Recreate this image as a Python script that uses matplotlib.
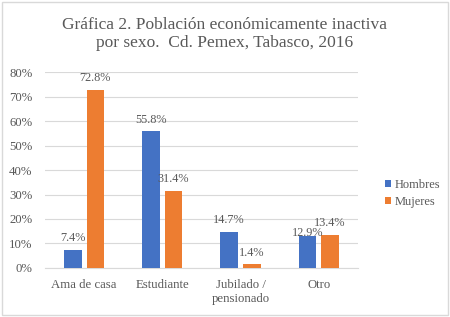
import matplotlib
matplotlib.use("Agg")
from matplotlib import pyplot as plt
from matplotlib.patches import Rectangle
import numpy as np

categorias = ["Ama de casa", "Estudiante", "Jubilado /\npensionado", "Otro"]
hombres = [7.4, 55.8, 14.7, 12.9]
mujeres = [72.8, 31.4, 1.4, 13.4]

plt.rcParams["font.family"] = ["Liberation Serif", "DejaVu Serif"]
gris = "#595959"

fig = plt.figure(figsize=(4.5, 3.17), dpi=100)
ax = fig.add_axes([0.1, 0.155, 0.695, 0.617])

x = np.arange(len(categorias))
w = 0.225
d = w / 2 + 0.032
b1 = ax.bar(x - d, hombres, w, color="#4472C4", label="Hombres", zorder=3)
b2 = ax.bar(x + d, mujeres, w, color="#ED7D31", label="Mujeres", zorder=3)

for k, (bars, vals) in enumerate(((b1, hombres), (b2, mujeres))):
    for i, (r, v) in enumerate(zip(bars, vals)):
        dy = 3.6
        if k == 0 and i == 3:
            dy = 0.3  # como en Excel: la etiqueta baja para no chocar
        ax.text(r.get_x() + r.get_width() / 2, v + dy, f"{v:.1f}%",
                ha="center", va="baseline", fontsize=8.8, color=gris, zorder=4)

ax.set_xlim(-0.5, 3.5)
ax.set_ylim(0, 80)
ax.set_yticks(np.arange(0, 81, 10))
ax.set_yticklabels([f"{t}%" for t in range(0, 81, 10)])
ax.set_xticks(x)
ax.set_xticklabels(categorias)
ax.tick_params(axis="both", length=0, labelsize=9.2, colors=gris)
ax.tick_params(axis="x", pad=8)
ax.tick_params(axis="y", pad=9)
ax.grid(axis="y", color="#d9d9d9", linewidth=0.8, zorder=0)
for s in ("top", "right", "left"):
    ax.spines[s].set_visible(False)
ax.spines["bottom"].set_color("#d9d9d9")

fig.text(0.5, 0.945, "Gráfica 2. Población económicamente inactiva\npor sexo.  Cd. Pemex, Tabasco, 2016",
         ha="center", va="top", fontsize=12.5, color=gris, linespacing=1.15)

ax.legend(loc="center left", bbox_to_anchor=(1.05, 0.38), frameon=False,
          fontsize=9, labelcolor=gris, handlelength=0.5, handleheight=0.5,
          handletextpad=0.3, labelspacing=0.35)

fig.patches.append(Rectangle((0.005, 0.006), 0.99, 0.988, transform=fig.transFigure,
                             fill=False, edgecolor="#d9d9d9", linewidth=1))

fig.savefig("out.png", dpi=100)
